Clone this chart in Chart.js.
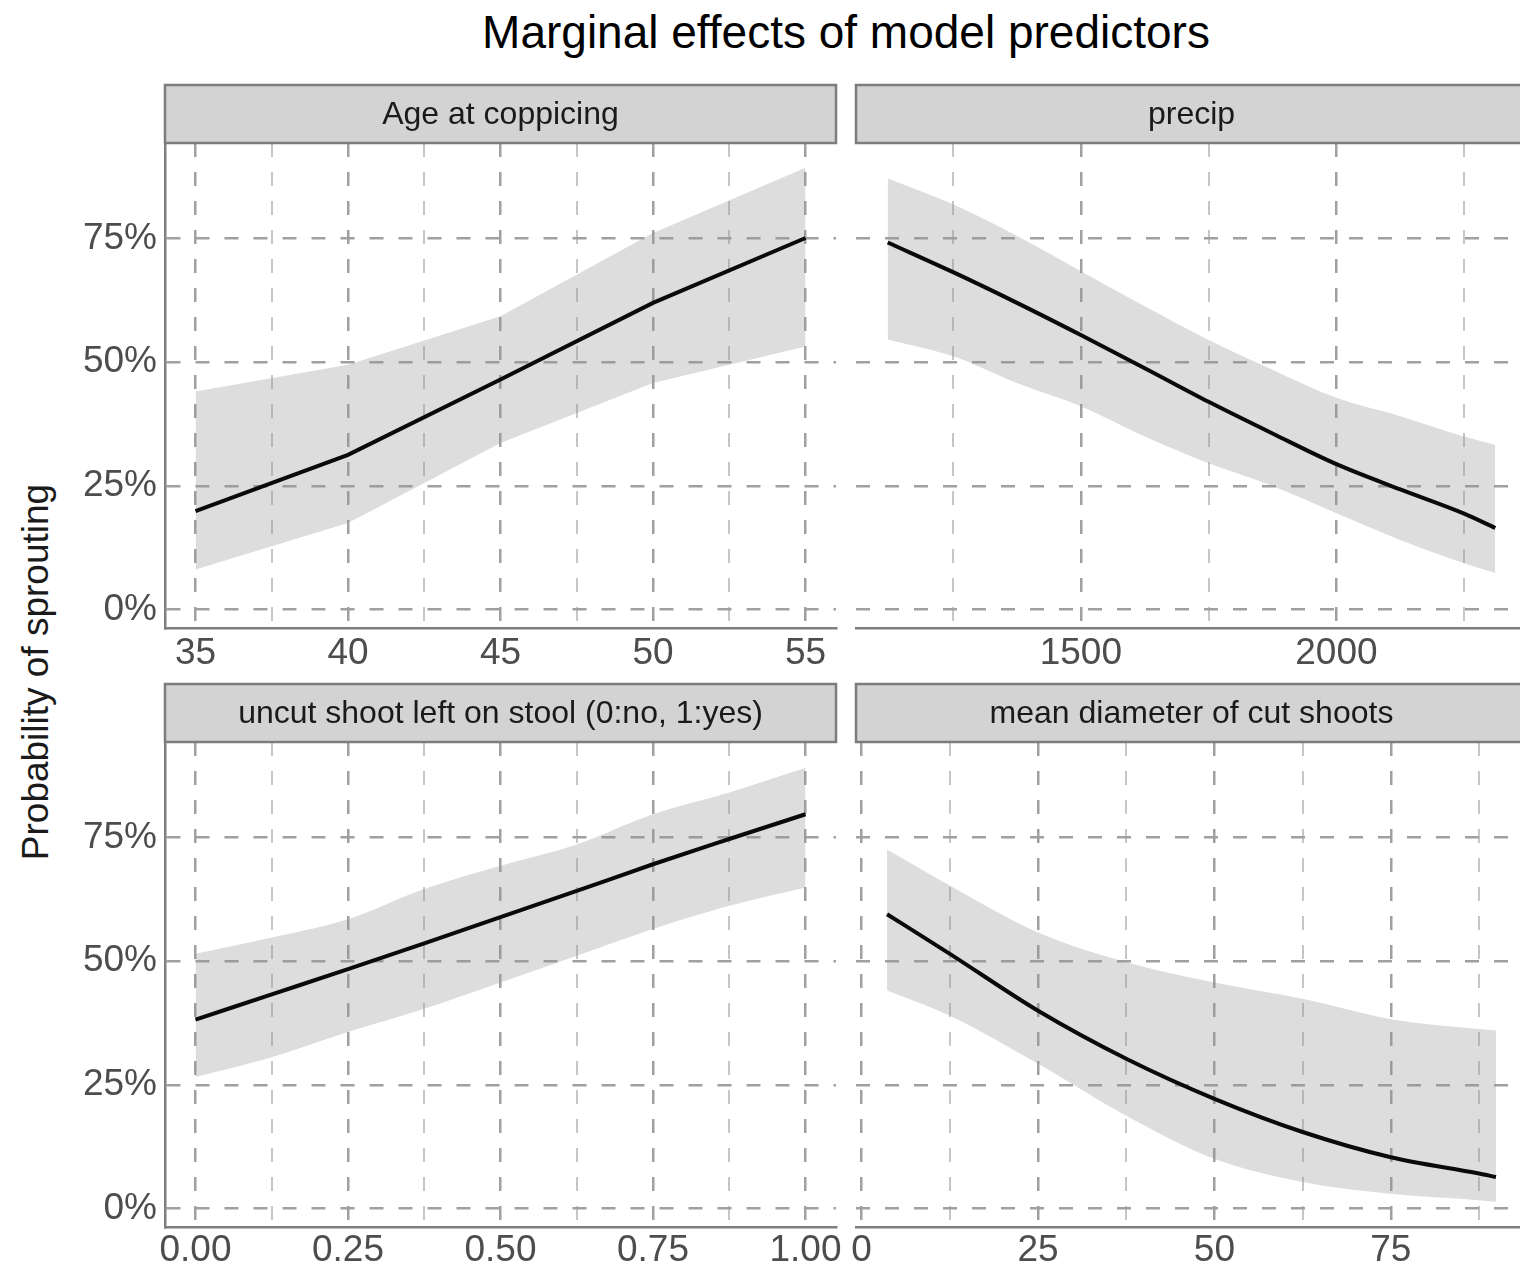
<!DOCTYPE html>
<html>
<head>
<meta charset="utf-8">
<title>Marginal effects of model predictors</title>
<script src="https://cdn.jsdelivr.net/npm/chart.js@4.4.1/dist/chart.umd.min.js"></script>
<style>
  html, body { margin: 0; padding: 0; background: #fff; overflow: hidden; }
  #page {
    position: relative; width: 1520px; height: 1273px; overflow: hidden;
    font-family: "Liberation Sans", Arial, sans-serif;
  }
  #page canvas { position: absolute; }
  #title {
    position: absolute; left: 846px; top: 9px; transform: translateX(-50%);
    font-size: 46px; line-height: 46px; color: #000; white-space: nowrap;
  }
  #ytitle {
    position: absolute; left: 35px; top: 672px;
    transform: translate(-50%, -50%) rotate(-90deg);
    font-size: 37px; line-height: 37px; color: #1a1a1a; white-space: nowrap;
  }
</style>
</head>
<body>
<div id="page">
  <div id="title">Marginal effects of model predictors</div>
  <div id="ytitle">Probability of sprouting</div>
  <canvas id="pAge" width="846" height="600" style="left:0;top:80px"></canvas>
  <canvas id="pPrecip" width="681" height="600" style="left:846px;top:80px"></canvas>
  <canvas id="pUncut" width="846" height="594" style="left:0;top:679px"></canvas>
  <canvas id="pDiam" width="681" height="594" style="left:846px;top:679px"></canvas>
</div>
<script>
// predicted probability (%) with lower / upper confidence limits
const yTicks = [0, 25, 50, 75];

const ageX     = [35, 40, 45, 50, 55];
const ageFit   = [19.9, 31.3, 46.5, 62.0, 75.1];
const ageLow   = [8.1, 17.5, 33.7, 45.8, 53.2];
const ageHigh  = [44.1, 49.5, 59.3, 76.1, 89.3];
const ageTicks = [35, 40, 45, 50, 55];
const ageMinor = [37.5, 42.5, 47.5, 52.5];

const precipX     = [1122, 1250, 1375, 1500, 1625, 1750, 1875, 2000, 2125, 2250, 2311];
const precipFit   = [74.2, 68.2, 62.0, 55.5, 48.8, 42.0, 35.6, 29.4, 24.3, 19.4, 16.5];
const precipLow   = [54.6, 51.2, 45.8, 41.1, 35.0, 29.6, 25.0, 19.5, 14.1, 9.4, 7.4];
const precipHigh  = [87.2, 81.9, 75.5, 68.4, 61.3, 54.5, 48.5, 42.8, 39.1, 35.0, 33.3];
const precipTicks = [1500, 2000];
const precipMinor = [1250, 1750, 2250];

const uncutX     = [0, 0.125, 0.25, 0.375, 0.5, 0.625, 0.75, 0.875, 1];
const uncutFit   = [38.2, 43.3, 48.4, 53.6, 58.9, 64.2, 69.6, 74.7, 79.7];
const uncutLow   = [26.6, 30.6, 35.7, 40.4, 45.7, 51.1, 56.5, 61.2, 64.9];
const uncutHigh  = [51.5, 54.8, 58.5, 64.6, 69.3, 73.6, 79.7, 84.1, 89.1];
const uncutTicks = [0, 0.25, 0.5, 0.75, 1];
const uncutMinor = [0.125, 0.375, 0.625, 0.875];

const diamX     = [3.6, 12.5, 25, 37.5, 50, 62.5, 75, 87.5, 89.9];
const diamFit   = [59.5, 51.5, 40.0, 30.3, 22.2, 15.5, 10.4, 7.1, 6.4];
const diamLow   = [44.1, 39.0, 29.3, 18.8, 10.1, 5.4, 3.0, 1.7, 1.4];
const diamHigh  = [72.6, 65.3, 55.8, 49.8, 45.7, 42.4, 38.3, 36.3, 36.0];
const diamTicks = [0, 25, 50, 75];
const diamMinor = [12.5, 37.5, 62.5, 87.5];

const FONT = '"Liberation Sans", Arial, sans-serif';
const GRID_DASH = [14, 15];

// grey header box above each panel
const stripPlugin = {
  id: 'strip',
  afterDraw(chart, args, opts) {
    const { ctx, chartArea } = chart;
    const h = 58;
    const top = chartArea.top - h;
    const w = chartArea.right - chartArea.left;
    ctx.save();
    ctx.fillStyle = '#d3d3d3';
    ctx.fillRect(chartArea.left, top, w, h);
    ctx.strokeStyle = '#7c7c7c';
    ctx.lineWidth = 2.5;
    ctx.strokeRect(chartArea.left, top, w, h);
    ctx.fillStyle = '#1a1a1a';
    ctx.font = '32px ' + FONT;
    ctx.textAlign = 'center';
    ctx.textBaseline = 'middle';
    ctx.fillText(opts.text, chartArea.left + w / 2, top + h / 2 + 1);
    ctx.restore();
  }
};

function zip(xs, ys) {
  return xs.map((x, i) => ({ x: x, y: ys[i] }));
}

function facet(id, p) {
  const minor = new Set(p.minor);
  const curve = p.smooth ? 'monotone' : 'default';
  return new Chart(document.getElementById(id), {
    type: 'line',
    data: {
      datasets: [
        { data: zip(p.x, p.fit), borderColor: '#0a0a0a', borderWidth: 4,
          pointRadius: 0, fill: false, cubicInterpolationMode: curve },
        { data: zip(p.x, p.low), borderColor: 'transparent', borderWidth: 0,
          pointRadius: 0, fill: false, cubicInterpolationMode: curve },
        { data: zip(p.x, p.high), borderColor: 'transparent', borderWidth: 0,
          pointRadius: 0, fill: '-1', backgroundColor: 'rgba(150,150,150,0.32)',
          cubicInterpolationMode: curve }
      ]
    },
    options: {
      responsive: false,
      animation: false,
      devicePixelRatio: 1,
      layout: { padding: { top: 63, left: 0, right: p.padRight, bottom: 0 } },
      plugins: {
        legend: { display: false },
        tooltip: { enabled: false },
        strip: { text: p.strip }
      },
      scales: {
        x: {
          type: 'linear',
          min: p.xMin,
          max: p.xMax,
          bounds: 'data',
          afterBuildTicks: s => {
            s.ticks = p.ticks.concat(p.minor).sort((a, b) => a - b).map(v => ({ value: v }));
          },
          afterFit: s => { s.height = p.axisH; s.paddingLeft = 0; s.paddingRight = 0; },
          grid: {
            drawTicks: false,
            color: c => (c.tick && minor.has(c.tick.value)) ? '#c6c6c6' : '#a0a0a0',
            lineWidth: c => (c.tick && minor.has(c.tick.value)) ? 2 : 2.5
          },
          border: { display: true, color: '#7f7f7f', width: 2.5, dash: GRID_DASH },
          ticks: {
            autoSkip: false, maxRotation: 0, minRotation: 0,
            padding: p.labelPad,
            color: '#4d4d4d',
            font: { family: FONT, size: 37 },
            callback: v => minor.has(v) ? '' : p.fmt(v)
          }
        },
        y: {
          type: 'linear',
          min: -3.7,
          max: 94.3,
          bounds: 'data',
          afterBuildTicks: s => { s.ticks = yTicks.map(v => ({ value: v })); },
          afterFit: s => { s.width = p.showY ? 165 : 10; s.paddingTop = 0; s.paddingBottom = 0; },
          grid: { drawTicks: false, color: '#a0a0a0', lineWidth: 2.5 },
          border: { display: p.showY, color: '#7f7f7f', width: 2.5, dash: GRID_DASH },
          ticks: {
            display: p.showY,
            padding: 8,
            color: '#4d4d4d',
            font: { family: FONT, size: 37 },
            callback: v => v + '%'
          }
        }
      }
    },
    plugins: [stripPlugin]
  });
}

facet('pAge', {
  strip: 'Age at coppicing', x: ageX, fit: ageFit, low: ageLow, high: ageHigh,
  xMin: 34, xMax: 56, ticks: ageTicks, minor: ageMinor, fmt: v => String(v),
  showY: true, padRight: 10, axisH: 52, labelPad: 4, smooth: false
});

facet('pPrecip', {
  strip: 'precip', x: precipX, fit: precipFit, low: precipLow, high: precipHigh,
  xMin: 1060, xMax: 2373, ticks: precipTicks, minor: precipMinor, fmt: v => String(v),
  showY: false, padRight: 0, axisH: 52, labelPad: 4, smooth: true
});

facet('pUncut', {
  strip: 'uncut shoot left on stool (0:no, 1:yes)', x: uncutX, fit: uncutFit, low: uncutLow, high: uncutHigh,
  xMin: -0.05, xMax: 1.05, ticks: uncutTicks, minor: uncutMinor, fmt: v => v.toFixed(2),
  showY: true, padRight: 10, axisH: 46, labelPad: 2, smooth: true
});

facet('pDiam', {
  strip: 'mean diameter of cut shoots', x: diamX, fit: diamFit, low: diamLow, high: diamHigh,
  xMin: -0.8, xMax: 94.3, ticks: diamTicks, minor: diamMinor, fmt: v => String(v),
  showY: false, padRight: 0, axisH: 46, labelPad: 2, smooth: true
});
</script>
</body>
</html>
